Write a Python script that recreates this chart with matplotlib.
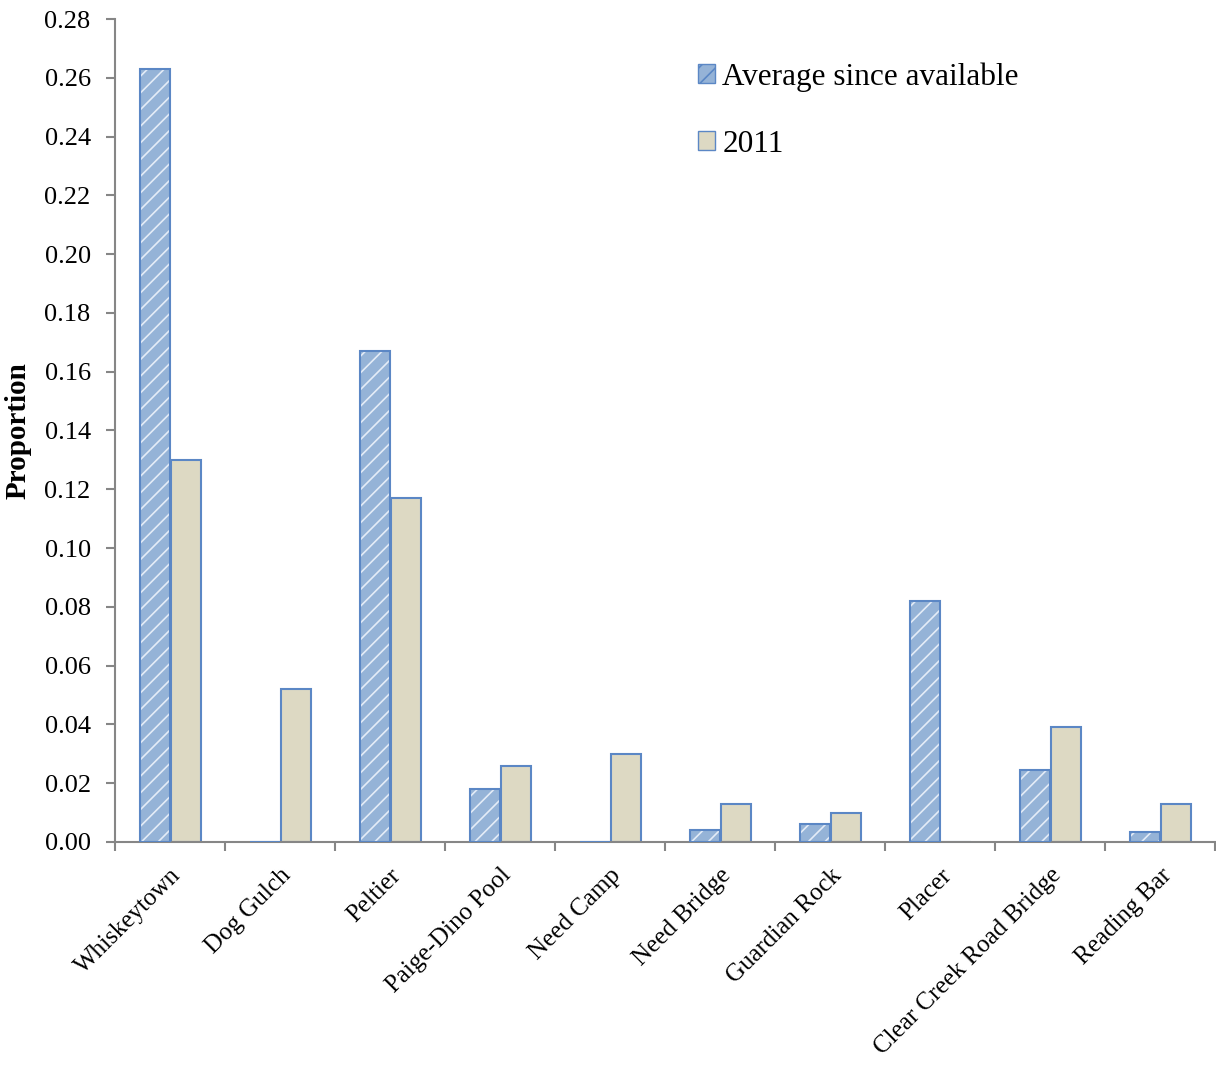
import numpy as np
import matplotlib.pyplot as plt
from matplotlib.patches import Patch

sites = ["Whiskeytown", "Dog Gulch", "Peltier", "Paige-Dino Pool", "Need Camp",
         "Need Bridge", "Guardian Rock", "Placer", "Clear Creek Road Bridge", "Reading Bar"]
avg_since = [0.263, 0.0, 0.167, 0.018, 0.0, 0.004, 0.006, 0.082, 0.0245, 0.0035]
year_2011 = [0.130, 0.052, 0.117, 0.026, 0.030, 0.013, 0.010, 0.0, 0.039, 0.013]
yticks = np.arange(0, 0.281, 0.02)

plt.rcParams['font.family'] = ['Liberation Serif', 'DejaVu Serif']
plt.rcParams['hatch.linewidth'] = 1.2

fig = plt.figure(figsize=(12.16, 10.68), dpi=100)
ax = fig.add_axes([115 / 1216, 1 - 842 / 1068, 1100 / 1216, (842 - 19) / 1068])

x = np.arange(len(sites))
w = 0.275
edge = '#5B87C5'
avg_face = '#95B3D7'
y11_face = '#DDD9C3'

# hatched bars: fill, white hatch overlay, then outline
ax.bar(x - w / 2, avg_since, w, color=avg_face, linewidth=0, zorder=2)
ax.bar(x - w / 2, avg_since, w, facecolor='none', edgecolor='#E4ECF7', hatch='//',
       linewidth=0, zorder=3)
ax.bar(x - w / 2, avg_since, w, facecolor='none', edgecolor=edge, linewidth=1.5, zorder=4)
ax.bar(x + w / 2 + 0.01, year_2011, w, color=y11_face, edgecolor=edge, linewidth=1.5, zorder=2)

ax.set_xlim(-0.5, len(sites) - 0.5)
ax.set_ylim(0, 0.28)
ax.set_yticks(yticks)
ax.set_yticklabels([f"{v:.2f}" for v in yticks], fontsize=19)
ax.set_ylabel("Proportion", fontsize=21, fontweight='bold')
ax.yaxis.set_label_coords(-0.076, 0.5)

ax.set_xticks(np.arange(-0.5, len(sites), 1.0))
ax.set_xticklabels([])
ax.set_xticks(x, minor=True)
ax.set_xticklabels(sites, minor=True, rotation=45, ha='right', va='top',
                   rotation_mode='anchor', fontsize=18)
ax.tick_params(axis='x', which='minor', length=0, pad=16)
ax.tick_params(axis='x', which='major', length=6.5, color='#868686', width=1.5)
ax.tick_params(axis='y', length=6.5, color='#868686', width=1.5, pad=11)

for s in ['top', 'right']:
    ax.spines[s].set_visible(False)
for s in ['left', 'bottom']:
    ax.spines[s].set_color('#868686')
    ax.spines[s].set_linewidth(1.5)

handles = [Patch(facecolor=avg_face, edgecolor=edge, hatch='//'),
           Patch(facecolor=y11_face, edgecolor=edge)]
fig.legend(handles, ["Average since available", "2011"], loc='upper left',
           bbox_to_anchor=(698 / 1216, 1 - 62 / 1068), bbox_transform=fig.transFigure,
           frameon=False, fontsize=22.5, borderpad=0, borderaxespad=0,
           handlelength=0.55, handleheight=0.55, handletextpad=0.23, labelspacing=1.22)

fig.savefig("out.png", dpi=100)
